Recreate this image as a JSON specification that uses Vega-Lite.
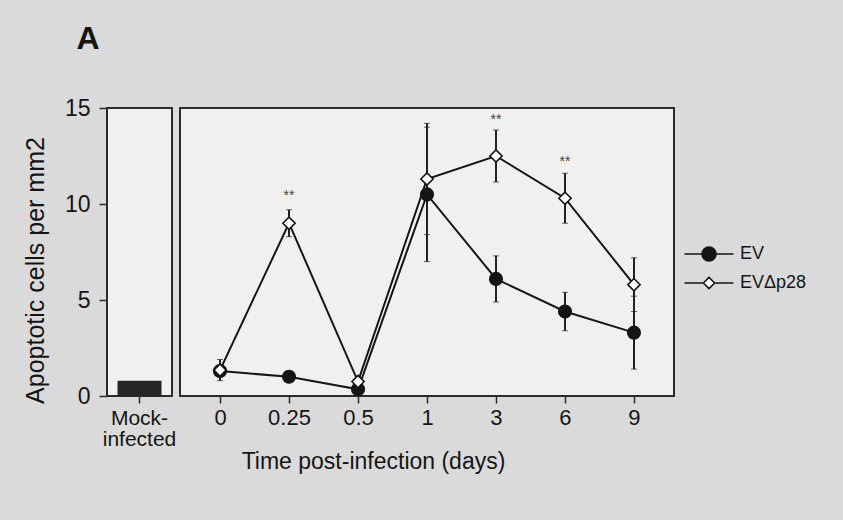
{
  "$schema": "https://vega.github.io/schema/vega-lite/v6.json",
  "background": "#dadada",
  "padding": {"left": 22, "top": 23, "right": 36, "bottom": 48},
  "bounds": "flush",
  "title": {"text": "A", "anchor": "start", "fontSize": 32, "fontWeight": "bold", "font": "Liberation Sans", "color": "#151515", "offset": 40, "dx": 54},
  "config": {
    "font": "Liberation Sans",
    "view": {"fill": "#f0f0f0", "stroke": "#2a2a2a", "strokeWidth": 2},
    "axis": {"labelFont": "Liberation Sans", "titleFont": "Liberation Sans", "labelFontSize": 22, "labelColor": "#151515", "titleColor": "#151515", "domainColor": "#2a2a2a", "tickColor": "#2a2a2a", "tickWidth": 1.5, "domainWidth": 2, "grid": false, "titleFontWeight": "normal"},
    "legend": {"title": null, "orient": "none", "legendX": 593, "legendY": 137, "labelFontSize": 18, "labelColor": "#151515", "symbolSize": 196, "symbolStrokeWidth": 1.6, "symbolOpacity": 1, "labelOffset": 22, "rowPadding": 9}
  },
  "datasets": {
    "mock": [{"group": "Mock-infected", "value": 0.8}],
    "series": [
      {"time": "0", "series": "EV", "mean": 1.3, "low": 1.0, "high": 1.6},
      {"time": "0.25", "series": "EV", "mean": 1.0, "low": 0.9, "high": 1.1},
      {"time": "0.5", "series": "EV", "mean": 0.35, "low": 0.25, "high": 0.45},
      {"time": "1", "series": "EV", "mean": 10.5, "low": 7.0, "high": 14.0},
      {"time": "3", "series": "EV", "mean": 6.1, "low": 4.9, "high": 7.3},
      {"time": "6", "series": "EV", "mean": 4.4, "low": 3.4, "high": 5.4},
      {"time": "9", "series": "EV", "mean": 3.3, "low": 1.4, "high": 5.2},
      {"time": "0", "series": "EVΔp28", "mean": 1.35, "low": 0.8, "high": 1.9},
      {"time": "0.25", "series": "EVΔp28", "mean": 9.0, "low": 8.3, "high": 9.7},
      {"time": "0.5", "series": "EVΔp28", "mean": 0.75, "low": 0.65, "high": 0.85},
      {"time": "1", "series": "EVΔp28", "mean": 11.3, "low": 8.4, "high": 14.2},
      {"time": "3", "series": "EVΔp28", "mean": 12.5, "low": 11.15, "high": 13.85},
      {"time": "6", "series": "EVΔp28", "mean": 10.3, "low": 9.0, "high": 11.6},
      {"time": "9", "series": "EVΔp28", "mean": 5.8, "low": 4.4, "high": 7.2}
    ],
    "sig": [
      {"time": "0.25", "y": 10.4, "label": "**"},
      {"time": "3", "y": 14.4, "label": "**"},
      {"time": "6", "y": 12.2, "label": "**"}
    ]
  },
  "spacing": 8,
  "hconcat": [
    {
      "width": 65,
      "height": 288,
      "data": {"name": "mock"},
      "mark": {"type": "bar", "color": "#262626", "width": 44},
      "encoding": {
        "x": {"field": "group", "type": "nominal", "axis": {"title": null, "labelAngle": 0, "labelExpr": "['Mock-', 'infected']", "labelFontSize": 21, "labelLineHeight": 21, "tickSize": 7, "labelPadding": 4, "domain": false}},
        "y": {"field": "value", "type": "quantitative", "scale": {"domain": [0, 15], "nice": false}, "axis": {"values": [0, 5, 10, 15], "title": "Apoptotic cells per mm2", "titleFontSize": 25, "titleY": 162, "titlePadding": 16, "labelFontSize": 23, "tickSize": 8, "labelPadding": 9, "domain": false}}
      }
    },
    {
      "width": 494,
      "height": 288,
      "data": {"name": "series"},
      "encoding": {
        "x": {"field": "time", "type": "ordinal", "sort": ["0", "0.25", "0.5", "1", "3", "6", "9"], "scale": {"type": "point", "padding": 0.58}, "axis": {"title": "Time post-infection (days)", "titleFontSize": 23, "titleX": 193, "titlePadding": 22, "labelAngle": 0, "tickSize": 7, "labelPadding": 4, "domain": false}}
      },
      "layer": [
        {
          "mark": {"type": "line", "color": "#151515", "strokeWidth": 2},
          "encoding": {
            "y": {"field": "mean", "type": "quantitative", "scale": {"domain": [0, 15], "nice": false}, "axis": null},
            "detail": {"field": "series"}
          }
        },
        {
          "mark": {"type": "errorbar", "ticks": {"size": 6, "color": "#222", "strokeWidth": 2}, "rule": {"color": "#222", "strokeWidth": 2}},
          "encoding": {
            "y": {"field": "low", "type": "quantitative", "scale": {"domain": [0, 15], "nice": false}},
            "y2": {"field": "high"},
            "detail": {"field": "series"}
          }
        },
        {
          "mark": {"type": "point", "filled": true, "opacity": 0, "size": 170},
          "encoding": {
            "y": {"field": "mean", "type": "quantitative", "scale": {"domain": [0, 15], "nice": false}},
            "shape": {"field": "series", "type": "nominal", "scale": {"domain": ["EV", "EVΔp28"], "range": ["M-3.5,0L-1,0A1,1 0 1,1 1,0A1,1 0 1,1 -1,0M1,0L3.5,0", "M-3.5,0L-0.8,0L0,-0.8L0.8,0L0,0.8L-0.8,0M0.8,0L3.5,0"]}},
            "fill": {"field": "series", "type": "nominal", "scale": {"domain": ["EV", "EVΔp28"], "range": ["#151515", "#ffffff"]}},
            "stroke": {"field": "series", "type": "nominal", "scale": {"domain": ["EV", "EVΔp28"], "range": ["#151515", "#151515"]}}
          }
        },
        {
          "transform": [{"filter": "datum.series === 'EV'"}],
          "mark": {"type": "point", "shape": "circle", "filled": true, "color": "#151515", "opacity": 1, "size": 200},
          "encoding": {
            "y": {"field": "mean", "type": "quantitative", "scale": {"domain": [0, 15], "nice": false}}
          }
        },
        {
          "transform": [{"filter": "datum.series === 'EVΔp28'"}],
          "mark": {"type": "point", "shape": "diamond", "filled": true, "fill": "#ffffff", "stroke": "#151515", "strokeWidth": 1.6, "opacity": 1, "size": 150},
          "encoding": {
            "y": {"field": "mean", "type": "quantitative", "scale": {"domain": [0, 15], "nice": false}}
          }
        },
        {
          "data": {"name": "sig"},
          "mark": {"type": "text", "fontSize": 14, "color": "#444", "baseline": "middle"},
          "encoding": {
            "y": {"field": "y", "type": "quantitative", "scale": {"domain": [0, 15], "nice": false}},
            "text": {"field": "label"}
          }
        }
      ]
    }
  ]
}
